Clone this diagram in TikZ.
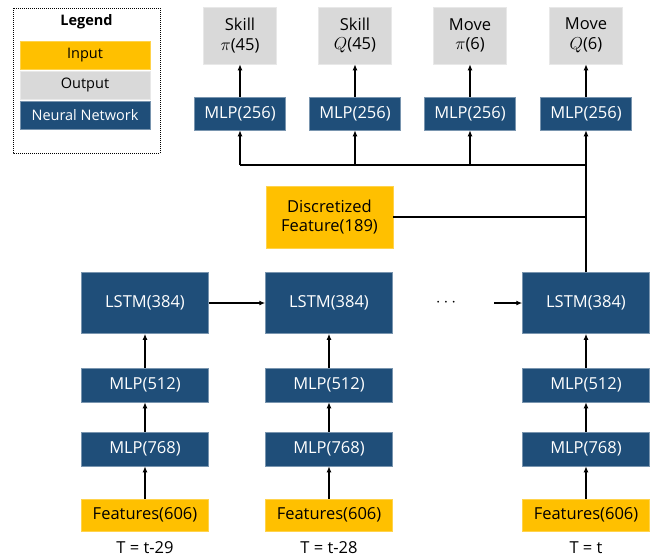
\documentclass[tikz,border=0pt]{standalone}
\usepackage{fontspec}
\setmainfont{Open Sans}
\usepackage{xcolor}
\usepackage{tikz}
\usetikzlibrary{arrows.meta}

\definecolor{inyellow}{HTML}{FFC000}
\definecolor{outgray}{HTML}{D9D9D9}
\definecolor{nnblue}{HTML}{1F4E79}

\begin{document}
\begin{tikzpicture}[x=1pt,y=-1pt,
		inbox/.style={fill=inyellow,draw=inyellow!70!white,line width=0.5pt,text=black,minimum width=127pt,align=center,inner sep=0pt},
		outbox/.style={fill=outgray,draw=outgray!60!white,line width=0.5pt,text=black,minimum width=73pt,minimum height=57pt,align=center,inner sep=0pt},
		nnbox/.style={fill=nnblue,draw=nnblue!60!white,line width=0.5pt,text=white,minimum width=127pt,align=center,inner sep=0pt},
		link/.style={line width=2pt,-{Latex[length=6pt,width=5pt]}},
		wire/.style={line width=2pt},
		font=\fontsize{16.5}{19.5}\selectfont]
				\useasboundingbox (0,0) rectangle (651,558);
				
				% legend
				\draw[densely dotted,line width=1pt] (13,8) rectangle (160,153);
				\node[font=\fontsize{14.5}{17}\selectfont\bfseries] (legend) at (86.5,22) {Legend};
				\foreach \n/\y/\s/\t in
				{lin/55/inbox/Input, lout/85/outbox/Output, lnn/115.5/nnbox/Neural Network}{
					\node[\s,minimum width=130pt,minimum height=28pt,font=\fontsize{14.5}{17}\selectfont] (\n) at (85,\y) {\t};
				}
				
				% time steps
				\foreach \c/\x/\t in
				{a/145/t-29, b/329/t-28, c/586/t}{
					\node[inbox,minimum height=32pt] (feat\c) at (\x,515) {Features(606)};
					\node[nnbox,minimum height=34pt] (mlpa\c) at (\x,449) {MLP(768)};
					\node[nnbox,minimum height=34pt] (mlpb\c) at (\x,385) {MLP(512)};
					\node[nnbox,minimum height=61pt] (lstm\c) at (\x,303) {LSTM(384)};
					\node (time\c) at (\x,548) {T = \t};
					\draw[link] (feat\c) -- (mlpa\c);
					\draw[link] (mlpa\c) -- (mlpb\c);
					\draw[link] (mlpb\c) -- (lstm\c);
				}
				
				% recurrence
				\node (dots) at (446,303) {$\cdots$};
				\coordinate (gap) at (494,303);
				\draw[link] (lstma) -- (lstmb);
				\draw[link] (gap) -- (lstmc);
				
				% discretized input
				\node[inbox,minimum height=62pt] (disc) at (329.5,217) {Discretized\\Feature(189)};
				\draw[wire] (disc.east) -- (disc.east -| lstmc.north);
				
				% heads
				\foreach \n/\x/\a/\b in
				{sp/240/Skill/{$\pi$(45)}, sq/355/Skill/{$Q$(45)}, mp/470/Move/{$\pi$(6)}, mq/586/Move/{$Q$(6)}}{
					\node[outbox] (out\n) at (\x,35.5) {\a\\\b};
					\node[nnbox,minimum width=91pt,minimum height=33pt] (head\n) at (\x,113.5) {MLP(256)};
					\coordinate (bus\n) at (\x,165);
					\draw[link] (head\n) -- (out\n);
					\draw[link] (bus\n) -- (head\n);
				}
				\draw[wire] (bussp) -- (busmq);
				\draw[wire] (lstmc.north) -- (busmq);
			\end{tikzpicture}
\end{document}
